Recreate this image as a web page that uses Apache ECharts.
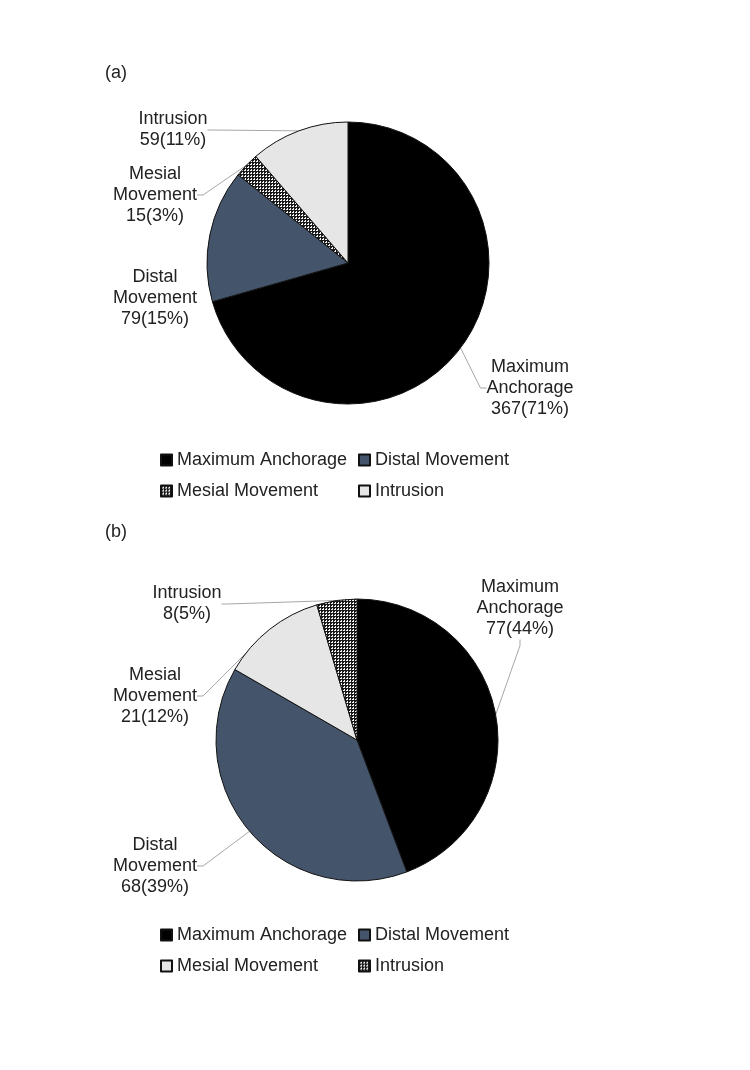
<!DOCTYPE html>
<html>
<head>
<meta charset="utf-8">
<script src="https://cdn.jsdelivr.net/npm/echarts@6/dist/echarts.min.js"></script>
<style>
html, body { margin: 0; padding: 0; background: #fff; }
#chart-a { position: absolute; left: 0; top: 0; width: 750px; height: 520px; }
#chart-b { position: absolute; left: 0; top: 520px; width: 750px; height: 550px; }
</style>
</head>
<body>
<div id="chart-a"></div>
<div id="chart-b"></div>
<script>
// ==========================================
// 数据 (a) / (b)
// ==========================================
const categories = ['Maximum Anchorage', 'Distal Movement', 'Mesial Movement', 'Intrusion'];
const valuesA = [367, 79, 15, 59];
const valuesB = [77, 68, 21, 8];

// ==========================================
// 样式
// ==========================================
const FONT = "'Liberation Sans', Arial, sans-serif";

// 网格填充 (Excel 的图案填充)
function makePattern() {
    const c = document.createElement('canvas');
    c.width = 3; c.height = 3;
    const g = c.getContext('2d');
    g.fillStyle = '#f4f4f4';
    g.fillRect(0, 0, 3, 3);
    g.fillStyle = '#1a1a1a';
    g.fillRect(0, 0, 3, 1);
    g.fillRect(0, 0, 1, 3);
    g.fillRect(1, 1, 1, 1);
    return { image: c, repeat: 'repeat' };
}
const pattern = makePattern();

const colorsA = ['#000000', '#44546a', pattern, '#e7e6e6'];
const colorsB = ['#000000', '#44546a', '#e7e6e6', pattern];

// 标签中心位置 (像素, 各自画布内)
const labelPosA = [[530, 388], [155, 298], [155, 195], [173, 130]];
const labelPosB = [[520, 88], [155, 346], [155, 176], [187, 84]];
const lineShowA = [true, false, true, true];
const lineShowB = [true, true, true, true];

function buildOption(tag, values, colors, labelPos, lineShow, layout) {
    return {
        animation: false,
        title: {
            text: tag, left: layout.titleX, top: layout.titleY, padding: 0,
            textStyle: { fontFamily: FONT, fontSize: 18, fontWeight: 'normal', color: '#222' }
        },
        legend: {
            left: 160, top: layout.legendTop, width: 420, padding: 0,
            itemWidth: 11, itemHeight: 11, itemGap: 5,
            icon: 'rect',
            data: categories,
            textStyle: { fontFamily: FONT, fontSize: 18, color: '#222', width: 176, lineHeight: 26 }
        },
        series: [{
            type: 'pie',
            center: layout.center,
            radius: 141,
            startAngle: 90,
            clockwise: true,
            avoidLabelOverlap: false,
            itemStyle: { borderColor: '#111', borderWidth: 1 },
            emphasis: { disabled: true },
            label: {
                show: true, position: 'outside',
                fontFamily: FONT, fontSize: 18, lineHeight: 21, color: '#222',
                formatter: p => p.name.replace(' ', '\n') + '\n' + p.value + '(' + Math.round(p.percent) + '%)'
            },
            labelLine: { show: true, length: 10, length2: 6, lineStyle: { color: '#a6a6a6', width: 1 } },
            labelLayout: params => ({
                x: labelPos[params.dataIndex][0],
                y: labelPos[params.dataIndex][1],
                align: 'center',
                verticalAlign: 'middle'
            }),
            data: categories.map((name, i) => ({
                name: name,
                value: values[i],
                itemStyle: { color: colors[i] },
                labelLine: { show: lineShow[i] }
            }))
        }]
    };
}

const chartA = echarts.init(document.getElementById('chart-a'));
chartA.setOption(buildOption('(a)', valuesA, colorsA, labelPosA, lineShowA,
    { titleX: 105, titleY: 64, center: [348, 263], legendTop: 447 }));

const chartB = echarts.init(document.getElementById('chart-b'));
chartB.setOption(buildOption('(b)', valuesB, colorsB, labelPosB, lineShowB,
    { titleX: 105, titleY: 3, center: [357, 220], legendTop: 402 }));
</script>
</body>
</html>
